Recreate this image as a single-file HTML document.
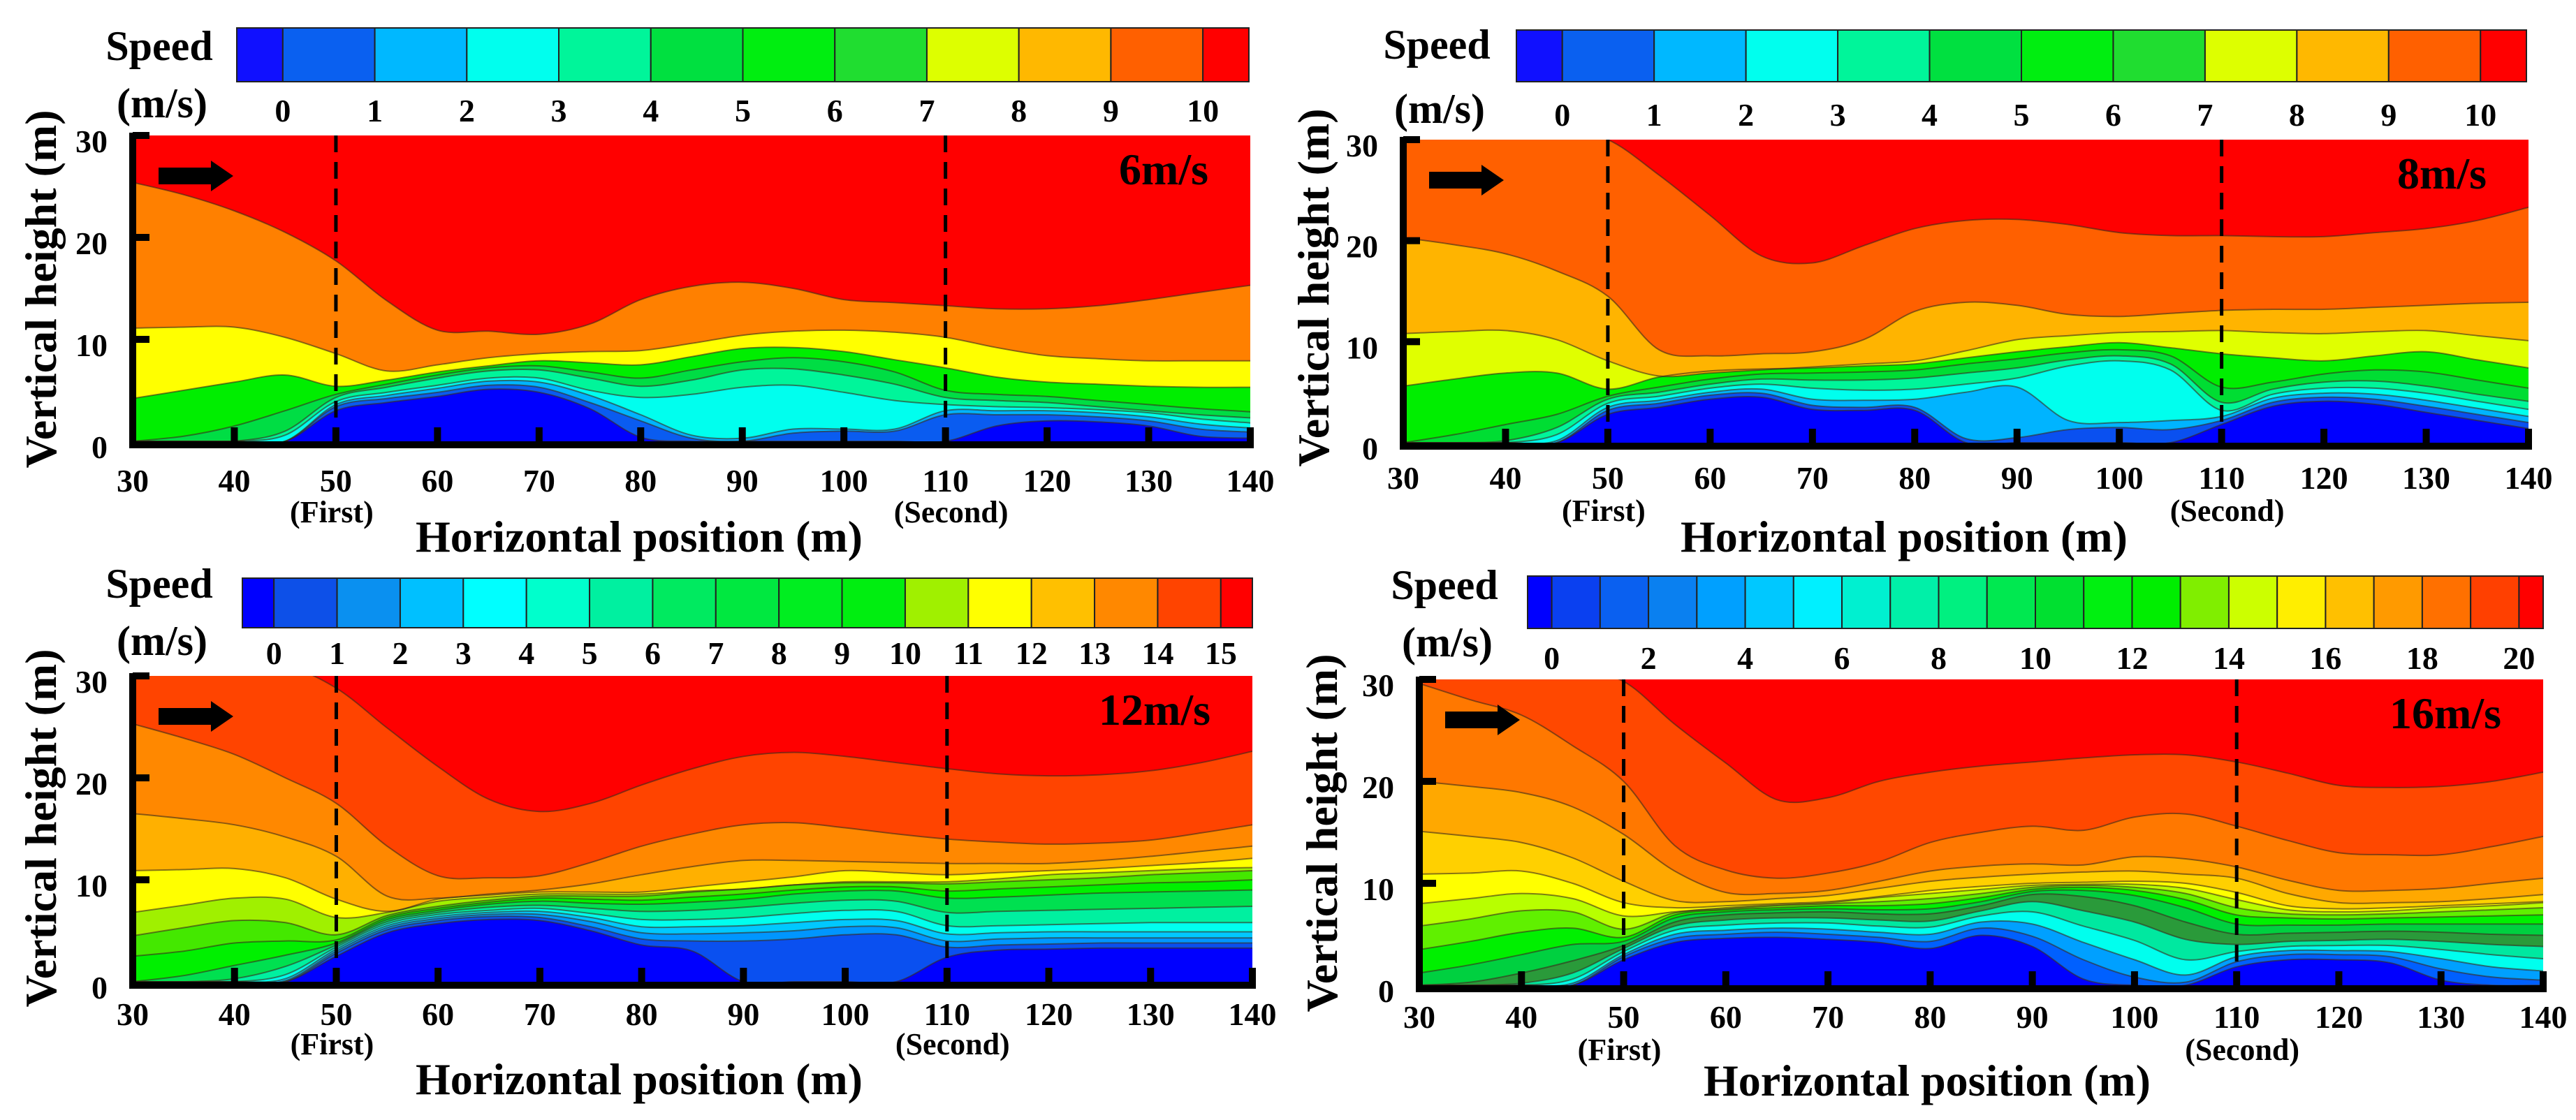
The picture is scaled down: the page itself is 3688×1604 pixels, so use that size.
<!DOCTYPE html>
<html><head><meta charset="utf-8"><title>Wind speed contours</title>
<style>
html,body{margin:0;padding:0;background:#fff;}
svg{display:block;}
text{font-family:"Liberation Serif","DejaVu Serif",serif;font-weight:bold;fill:#000;}
</style></head>
<body>
<svg id="fig" xmlns="http://www.w3.org/2000/svg" width="3688" height="1604" viewBox="0 0 3688 1604">
<rect x="0" y="0" width="3688" height="1604" fill="#fff"/>
</svg>
<script>
// ---------- data ----------
const XS = [30,35,40,45,50,55,60,65,70,75,80,85,90,95,100,105,110,115,120,125,130,135,140];
const X_TICKS = [30,40,50,60,70,80,90,100,110,120,130,140];
const Y_TICKS = [0,10,20,30];
const TURBINES = [50,110];

// Panel 1 (6 m/s)
const P1_BASE = '#0000ff';
const P1_FILLS = ['#0a5cf0','#00b4ff','#00ffee','#00f59a','#00dd44','#00ee00','#ffff00','#ff8000','#ff0000'];
const P1_CURVES = [
 [0,0,0,0,3.0,3.8,4.4,5.1,4.8,3.2,0.4,0,0,0,0,0,0,1.5,2.0,1.9,1.5,0.5,0.3],
 [0,0,0,0,3.4,4.2,4.8,5.5,5.3,3.8,2.0,0.3,0,0.8,1.0,1.0,2.6,2.6,2.6,2.4,2.0,1.2,0.9],
 [0,0,0,0,3.6,4.5,5.2,5.9,5.8,4.5,2.6,0.6,0.3,1.2,1.2,1.2,3.0,3.0,3.0,2.8,2.4,1.7,1.3],
 [0,0,0,0.6,3.9,4.8,5.5,6.2,6.2,5.0,4.3,4.6,5.3,5.5,4.8,4.0,3.6,3.4,3.3,3.1,2.8,2.2,1.8],
 [0,0,0,1.0,4.3,5.3,6.2,6.9,7.0,6.2,5.4,6.0,7.0,7.1,6.5,5.6,4.3,4.0,3.8,3.4,3.0,2.6,2.3],
 [0,0.5,1.5,3.0,4.6,5.6,6.5,7.2,7.4,6.8,6.2,7.0,7.8,8.2,7.8,6.8,5.0,4.6,4.4,4.0,3.6,3.2,2.9],
 [4.2,5.0,5.8,6.5,5.4,6.0,6.8,7.4,7.9,7.7,7.5,8.3,9.1,9.2,8.8,8.0,7.2,6.3,5.8,5.6,5.4,5.3,5.3],
 [11.1,11.2,11.2,10.2,8.6,6.9,7.5,8.2,8.6,8.8,8.9,9.6,10.4,10.8,10.9,10.7,10.2,9.2,8.4,8.1,7.9,7.9,7.9],
 [25.4,24.2,22.6,20.5,17.7,13.8,10.9,10.8,10.5,11.5,13.9,15.2,15.6,15.0,13.9,13.6,13.3,13.0,13.0,13.3,13.9,14.6,15.3]
];
const P1_CB_COLORS = ['#1010ff','#0a60f0','#00b8ff','#00ffee','#00f59a','#00e040','#00ee10','#20dd30','#ddff00','#ffb800','#ff6000','#ff0000'];
const P1_CB_LABELS = ['0','1','2','3','4','5','6','7','8','9','10'];

// Panel 2 (8 m/s)
const P2_BASE = '#0000ff';
const P2_FILLS = ['#0a50f0','#00b4ff','#00ffee','#00f59a','#00dd33','#00ee00','#e0ff00','#ffb400','#ff6000','#ff0000'];
const P2_CURVES = [
 [0,0,0,0,2.8,3.5,4.3,4.5,3.3,3.2,3.2,0,0,0,0,0,1.8,3.6,4.1,3.8,3.0,2.2,1.4],
 [0,0,0,0,3.2,3.9,4.7,4.9,3.7,3.5,3.5,0.4,0.5,1.3,1.5,1.3,2.2,4.0,4.5,4.3,3.6,2.8,2.0],
 [0,0,0,0.2,3.5,4.2,5.0,5.3,4.3,4.2,4.3,5.0,5.5,2.2,2.0,2.2,2.6,4.4,4.9,4.8,4.2,3.4,2.6],
 [0,0,0,0.8,3.9,4.6,5.4,5.8,5.4,5.2,5.3,5.8,6.4,7.6,8.1,7.2,3.2,4.8,5.4,5.4,4.9,4.1,3.3],
 [0,0,0.2,1.5,4.3,5.0,5.8,6.3,6.2,6.2,6.4,6.9,7.4,8.2,8.6,7.8,4.0,5.3,6.0,6.1,5.6,4.8,4.1],
 [0,0.8,1.8,2.8,4.6,5.5,6.3,6.8,6.9,7.0,7.2,7.8,8.3,8.9,9.2,8.6,5.5,6.0,6.8,7.2,7.0,6.2,5.4],
 [5.6,6.3,6.9,6.9,5.3,6.5,7.1,7.3,7.4,7.6,7.8,8.4,9.0,9.5,9.9,9.4,8.8,8.4,8.1,8.6,9.0,8.2,7.4],
 [10.8,11.0,11.1,10.2,8.1,6.6,6.9,7.2,7.5,7.8,8.1,9.1,10.2,10.6,10.9,11.0,11.1,10.9,10.8,11.0,11.1,10.6,10.1],
 [20.3,19.6,18.7,17.0,14.5,9.2,8.6,8.8,9.0,10.2,13.0,13.9,13.6,12.7,12.5,12.8,13.1,13.2,13.2,13.4,13.6,13.8,13.9],
 [31,31,31,31,30,26.5,22.5,18.5,17.8,19.5,21.2,22.0,22.1,21.6,20.8,20.5,20.5,20.4,20.4,20.8,21.2,22,23.3]
];
const P2_CB_COLORS = P1_CB_COLORS;
const P2_CB_LABELS = ['0','1','2','3','4','5','6','7','8','9','10'];

// Panel 3 (12 m/s)
const P3_BASE = '#0000ff';
const P3_FILLS = ['#0a50f0','#0096ff','#00c8ff','#00ffee','#00f0a0','#00e050','#00f000','#44e800','#a0f000','#ffff00','#ffb000','#ff8800','#ff4400','#ff0000'];
const P3_CURVES = [
 [0,0,0,0,2.5,4.8,5.7,6.1,6.0,5.0,3.6,3.0,0,0,0,0,2.4,3.1,3.2,3.3,3.3,3.3,3.3],
 [0,0,0,0,2.8,5.1,6.0,6.4,6.3,5.4,4.2,4.0,4.0,4.2,4.6,4.6,3.4,3.6,3.7,3.8,3.8,3.8,3.8],
 [0,0,0,0.1,3.0,5.3,6.2,6.6,6.6,5.9,4.8,4.7,4.8,5.0,5.4,5.3,4.0,4.2,4.3,4.3,4.3,4.3,4.3],
 [0,0,0,0.3,3.2,5.5,6.4,6.8,6.9,6.3,5.4,5.4,5.5,5.8,6.1,6.0,4.7,4.8,4.9,4.9,4.9,4.9,4.9],
 [0,0,0,0.7,3.4,5.7,6.6,7.0,7.2,6.7,6.1,6.1,6.3,6.7,7.0,6.9,5.5,5.5,5.6,5.7,5.8,5.8,5.8],
 [0,0,0.3,1.5,3.6,5.9,6.8,7.3,7.5,7.2,6.9,7.0,7.3,7.7,8.0,7.9,6.8,6.9,7.0,7.1,7.2,7.3,7.4],
 [0,0.6,1.6,2.6,3.8,6.1,7.0,7.6,7.9,7.7,7.6,7.8,8.1,8.6,8.9,8.9,8.2,8.3,8.5,8.7,8.8,8.9,9.0],
 [2.5,3.0,3.8,4.0,4.1,6.3,7.2,7.8,8.2,8.1,8.0,8.3,8.6,9.0,9.3,9.3,8.9,9.1,9.3,9.5,9.7,9.8,10.0],
 [4.5,5.3,6.0,5.8,4.6,6.5,7.4,8.0,8.4,8.4,8.4,8.8,9.1,9.5,9.7,9.7,9.6,9.8,10.0,10.2,10.5,10.7,10.9],
 [6.8,7.5,8.2,8.1,6.3,6.8,7.9,8.3,8.6,8.6,8.6,8.9,9.1,9.5,9.8,9.8,9.8,10.1,10.5,10.7,10.9,11.1,11.2],
 [10.9,11.0,11.1,10.2,8.1,6.9,8.1,8.5,8.8,8.8,8.8,9.3,9.8,10.3,10.9,10.7,10.5,10.7,10.9,11.1,11.4,11.7,12.1],
 [16.5,16.0,15.4,14.2,12.3,8.4,8.2,8.6,9.0,9.6,10.5,11.3,11.9,11.9,11.8,11.7,11.6,11.6,11.6,11.9,12.3,12.8,13.3],
 [25.3,23.9,22.3,20.0,17.5,13.3,10.4,10.2,10.4,11.7,13.3,14.5,15.4,15.6,15.1,14.5,14.0,13.7,13.5,13.6,13.9,14.6,15.4],
 [31,31,31,31,28.8,24.9,21.1,17.9,16.7,17.5,19.3,20.9,22.1,22.5,22.1,21.5,20.9,20.4,20.2,20.3,20.7,21.5,22.6]
];
const P3_CB_COLORS = ['#0000ff','#0d50e8','#0a90f0','#00c0ff','#00ffff','#00ffcc','#00f0a0','#00ea60','#00e840','#00ee20','#00ee10','#a0f000','#ffff00','#ffc000','#ff8800','#ff4400','#ff0000'];
const P3_CB_LABELS = ['0','1','2','3','4','5','6','7','8','9','10','11','12','13','14','15'];

// Panel 4 (16 m/s)
const P4_BASE = '#0000ff';
const P4_FILLS = ['#0060ff','#00a0ff','#00ffee','#00e8a0','#2a9a3a','#00d040','#00f000','#60f000','#b8ff00','#ffff00','#ffd000','#ffa800','#ff7800','#ff4800','#ff0000'];
const P4_CURVES = [
 [0,0,0,0,2.5,4.2,4.6,4.7,4.5,4.2,3.6,4.9,3.8,0.6,0,0,1.8,2.5,2.5,2.2,0.5,0,0],
 [0,0,0,0,2.8,4.6,5.0,5.2,5.0,4.7,4.3,5.6,4.8,2.5,0.8,0.3,2.3,3.0,3.0,2.8,1.6,0.8,0.5],
 [0,0,0,0.2,3.0,5.0,5.4,5.6,5.5,5.2,5.0,6.2,6.0,4.2,2.5,1.0,2.8,3.4,3.4,3.3,2.6,1.8,1.4],
 [0,0,0,0.6,3.3,5.4,5.9,6.1,6.1,5.8,5.7,6.8,7.2,5.8,4.4,2.5,3.3,3.8,3.9,3.9,3.5,3.0,2.6],
 [0,0,0.2,1.2,3.6,5.8,6.4,6.6,6.6,6.4,6.3,7.3,8.2,7.3,6.2,4.5,4.0,4.3,4.4,4.5,4.3,4.0,3.8],
 [0,0.3,1.2,2.4,3.9,6.2,6.9,7.1,7.2,7.0,7.0,7.8,8.9,8.7,7.8,6.2,5.0,5.1,5.2,5.3,5.2,5.0,4.9],
 [1.2,2.0,3.0,4.0,4.3,6.6,7.2,7.4,7.5,7.4,7.5,8.2,9.2,9.3,8.8,7.6,6.0,5.9,5.9,6.0,6.0,6.0,6.0],
 [3.5,4.3,5.2,5.6,4.7,6.9,7.4,7.6,7.8,7.8,8.0,8.6,9.4,9.6,9.3,8.4,6.9,6.6,6.5,6.6,6.7,6.8,6.9],
 [5.8,6.5,7.3,7.2,5.5,7.1,7.5,7.8,8.0,8.2,8.5,9.0,9.6,9.8,9.6,9.0,7.6,7.0,6.9,7.0,7.2,7.4,7.6],
 [8.0,8.5,9.0,8.5,6.8,7.2,7.6,7.9,8.1,8.6,9.0,9.4,9.8,9.9,9.9,9.5,8.4,7.4,7.2,7.3,7.6,7.8,8.1],
 [10.9,11.0,11.2,10.0,8.1,7.6,7.8,8.0,8.2,8.7,9.3,9.7,10.0,10.1,10.2,10.0,9.1,7.8,7.5,7.6,7.8,8.0,8.2],
 [15.1,14.6,14.0,12.5,10.2,8.3,8.2,8.5,8.8,9.5,10.2,10.6,10.9,11.1,11.2,10.9,10.5,9.0,8.1,8.1,8.2,8.5,8.9],
 [20.0,19.5,18.9,17.5,14.8,11.2,9.1,9.0,9.3,10.2,11.2,11.7,11.9,11.8,12.6,12.4,11.6,10.3,9.3,9.3,9.5,10.0,10.5],
 [29.6,28.0,26.5,23.5,20.0,13.7,11.3,10.5,11.0,12.1,14.0,15.0,15.6,15.2,16.5,16.8,15.6,14.2,13.0,12.8,12.8,13.6,14.6],
 [31,31,31,31,29.8,25.6,21.8,18.2,18.4,20.0,20.9,21.5,21.9,22.3,22.6,22.6,21.9,20.8,19.6,19.4,19.5,20.0,20.9]
];
const P4_CB_COLORS = ['#0000ff','#0a40f0','#0a60f0','#0a80f0','#00a0ff','#00c8ff','#00f0ff','#00f0d0','#00f0a8','#00f080','#00e850','#00e030','#00f010','#00ee00','#80ee00','#ccff00','#ffee00','#ffc000','#ff9a00','#ff7000','#ff4000','#ff0000'];
const P4_CB_LABELS = ['0','2','4','6','8','10','12','14','16','18','20'];

// ---------- layout ----------
const PANELS = [
 {id:'p1', name:'6ms', label:'6m/s', base:P1_BASE, fills:P1_FILLS, curves:P1_CURVES, cbColors:P1_CB_COLORS, cbLabels:P1_CB_LABELS, cbStep:1,
  px:190, py:194, pw:1600, ph:438, cbx:339, cby:40, cbw:1449, cbh:77, cbly:174, spx:228, spy:86, msy:168,
  tly:704, fly:748, tty:790, ttx:915, ytx:58, yty:414},
 {id:'p2', name:'8ms', label:'8m/s', base:P2_BASE, fills:P2_FILLS, curves:P2_CURVES, cbColors:P2_CB_COLORS, cbLabels:P2_CB_LABELS, cbStep:1,
  px:2009, py:200, pw:1611, ph:434, cbx:2171, cby:43, cbw:1446, cbh:74, cbly:180, spx:2057, spy:84, msy:176,
  tly:700, fly:746, tty:790, ttx:2726, ytx:1880, yty:412},
 {id:'p3', name:'12ms', label:'12m/s', base:P3_BASE, fills:P3_FILLS, curves:P3_CURVES, cbColors:P3_CB_COLORS, cbLabels:P3_CB_LABELS, cbStep:1,
  px:190, py:968, pw:1603, ph:438, cbx:347, cby:828, cbw:1446, cbh:71, cbly:951, spx:228, spy:856, msy:938,
  tly:1468, fly:1510, tty:1567, ttx:915, ytx:58, yty:1186},
 {id:'p4', name:'16ms', label:'16m/s', base:P4_BASE, fills:P4_FILLS, curves:P4_CURVES, cbColors:P4_CB_COLORS, cbLabels:P4_CB_LABELS, cbStep:2,
  px:2032, py:973, pw:1609, ph:438, cbx:2187, cby:825, cbw:1454, cbh:75, cbly:958, spx:2068, spy:858, msy:940,
  tly:1472, fly:1518, tty:1569, ttx:2759, ytx:1892, yty:1193}
];

const NS = 'http://www.w3.org/2000/svg';
const svg = document.getElementById('fig');
function el(tag, attrs, parent){
  const e = document.createElementNS(NS, tag);
  for (const k in attrs) e.setAttribute(k, attrs[k]);
  (parent || svg).appendChild(e);
  return e;
}
function smoothPath(pts){
  let d = 'M' + pts[0][0].toFixed(1) + ',' + pts[0][1].toFixed(1);
  for (let i = 0; i < pts.length - 1; i++){
    const p0 = pts[Math.max(i-1,0)], p1 = pts[i], p2 = pts[i+1], p3 = pts[Math.min(i+2,pts.length-1)];
    const c1x = p1[0] + (p2[0]-p0[0])/6, c1y = p1[1] + (p2[1]-p0[1])/6;
    const c2x = p2[0] - (p3[0]-p1[0])/6, c2y = p2[1] - (p3[1]-p1[1])/6;
    d += ' C' + c1x.toFixed(1) + ',' + c1y.toFixed(1) + ' ' + c2x.toFixed(1) + ',' + c2y.toFixed(1) + ' ' + p2[0].toFixed(1) + ',' + p2[1].toFixed(1);
  }
  return d;
}

PANELS.forEach(function(P){
  const xS = v => P.px + (v-30)/110*P.pw;
  const yS = v => P.py + P.ph - v/30*P.ph;
  const g = el('g', {});
  
  

  const defs = el('defs', {}, g);
  const cp = el('clipPath', {id:'clip-' + P.id}, defs);
  el('rect', {x:P.px, y:P.py, width:P.pw, height:P.ph}, cp);

  const plot = el('g', {'clip-path':'url(#clip-' + P.id + ')'}, g);
  
  
  const bg = el('rect', {x:P.px, y:P.py, width:P.pw, height:P.ph, fill:P.base}, plot);
  
  

  P.curves.forEach(function(c, k){
    const pts = XS.map((x,i) => [xS(x), yS(c[i])]);
    const d = smoothPath(pts);
    const band = el('path', {d: d + ' L' + (P.px+P.pw+5) + ',' + (P.py-10) + ' L' + (P.px-5) + ',' + (P.py-10) + ' Z', fill:P.fills[k]}, plot);
    
    
  });
  P.curves.forEach(function(c, k){
    const pts = XS.map((x,i) => [xS(x), yS(c[i])]);
    const line = el('path', {d: smoothPath(pts), fill:'none', stroke:'#3a2a1a', 'stroke-opacity':0.6, 'stroke-width':2}, plot);
    
    
  });

  TURBINES.forEach(function(t){
    const dl = el('line', {x1:xS(t), x2:xS(t), y1:P.py, y2:P.py+P.ph, stroke:'#000', 'stroke-width':5, 'stroke-dasharray':'24,14'}, g);
    
    
  });

  const ax = el('g', {}, g);
  
  
  el('rect', {x:P.px-5, y:P.py-4, width:10, height:P.ph+14, fill:'#000'}, ax);
  el('rect', {x:P.px-5, y:P.py+P.ph, width:P.pw+10, height:10, fill:'#000'}, ax);
  X_TICKS.forEach(function(t){
    const tk = el('rect', {x:xS(t)-5, y:P.py+P.ph-20, width:10, height:22, fill:'#000'}, ax);
    
    
    const tl = el('text', {x:xS(t), y:P.tly, 'font-size':46, 'text-anchor':'middle'}, g);
    tl.textContent = t;
    
    
  });
  Y_TICKS.forEach(function(t){
    if (t > 0){
      const tk = el('rect', {x:P.px, y:yS(t)-5, width:24, height:10, fill:'#000'}, ax);
      
      
    }
    const tl = el('text', {x:P.px-36, y:yS(t)+24, 'font-size':46, 'text-anchor':'end'}, g);
    tl.textContent = t;
    
    
  });
  const f1 = el('text', {x:xS(50)-6, y:P.fly, 'font-size':44, 'text-anchor':'middle'}, g);
  f1.textContent = '(First)';
  
  
  const f2 = el('text', {x:xS(110)+8, y:P.fly, 'font-size':44, 'text-anchor':'middle'}, g);
  f2.textContent = '(Second)';
  
  
  const xt = el('text', {x:P.ttx, y:P.tty, 'font-size':64, 'text-anchor':'middle'}, g);
  xt.textContent = 'Horizontal position (m)';
  
  
  const yt = el('text', {x:0, y:0, 'font-size':64, 'text-anchor':'middle', transform:'translate(' + (P.ytx+22) + ',' + P.yty + ') rotate(-90)'}, g);
  yt.textContent = 'Vertical height (m)';
  
  

  const cl = el('text', {x:P.px+P.pw-60, y:P.py+70, 'font-size':64, 'text-anchor':'end'}, g);
  cl.textContent = P.label;
  
  
  const ar = el('path', {d:'M' + (P.px+37) + ',' + (P.py+46) + ' h75 v-10 l32,22 l-32,22 v-10 h-75 z', fill:'#000'}, g);
  
  

  const cb = el('g', {}, g);
  
  
  const n = P.cbColors.length;
  const unit = P.cbw / (n - 1);
  const bx = i => P.cbx + (i === 0 ? 0 : (i - 0.5) * unit);
  P.cbColors.forEach(function(c, i){
    const x0 = bx(i), x1 = (i === n-1) ? P.cbx + P.cbw : bx(i+1);
    const seg = el('rect', {x:x0, y:P.cby, width:x1-x0, height:P.cbh, fill:c, stroke:'#222', 'stroke-width':2}, cb);
    
    
  });
  P.cbLabels.forEach(function(lab, j){
    const bi = 1 + j * P.cbStep;
    const t = el('text', {x:bx(bi), y:P.cbly, 'font-size':46, 'text-anchor':'middle'}, cb);
    t.textContent = lab;
    
    
  });
  const sp = el('text', {x:P.spx, y:P.spy, 'font-size':60, 'text-anchor':'middle'}, g);
  sp.textContent = 'Speed';
  
  
  const ms = el('text', {x:P.spx+4, y:P.msy, 'font-size':60, 'text-anchor':'middle'}, g);
  ms.textContent = '(m/s)';
  
  
});
</script>
</body></html>
